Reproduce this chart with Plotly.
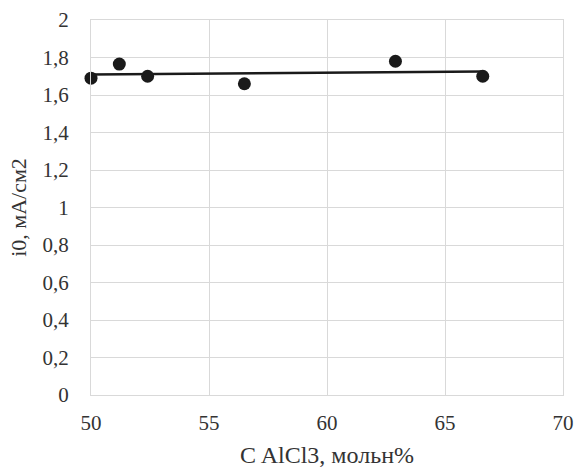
import numpy as np
import plotly.graph_objects as go

# Data
c_alcl3 = [50.0, 51.2, 52.4, 56.5, 62.9, 66.6]
i0 = [1.69, 1.765, 1.70, 1.66, 1.78, 1.70]
x_ticks = [50, 55, 60, 65, 70]
y_ticks = [0, 0.2, 0.4, 0.6, 0.8, 1.0, 1.2, 1.4, 1.6, 1.8, 2.0]

# linear trendline (least squares, like Excel)
slope, intercept = np.polyfit(c_alcl3, i0, 1)
tx = [min(c_alcl3), max(c_alcl3)]
ty = [slope * v + intercept for v in tx]

font_family = "Liberation Serif, Times New Roman, serif"
grid = "#d9d9d9"

fig = go.Figure()
fig.add_trace(go.Scatter(x=tx, y=ty, mode="lines",
                         line=dict(color="#1a1a1a", width=2.5),
                         showlegend=False, hoverinfo="skip"))
fig.add_trace(go.Scatter(x=c_alcl3, y=i0, mode="markers",
                         marker=dict(color="#1a1a1a", size=13),
                         showlegend=False, cliponaxis=False))

fig.update_layout(
    width=577, height=468,
    margin=dict(l=91, r=14, t=20, b=73),
    paper_bgcolor="white", plot_bgcolor="white",
    separators=", ",
    font=dict(family=font_family, size=21, color="#333333"),
    xaxis=dict(range=[50, 70], tickvals=x_ticks, showgrid=True,
               gridcolor=grid, gridwidth=1, zeroline=False,
               showline=True, linecolor=grid, linewidth=1, mirror=True,
               ticks="outside", ticklen=9,
               tickcolor="rgba(0,0,0,0)", automargin=False,
               ticklabeloverflow="allow",
               title=dict(text="C AlCl3, мольн%", standoff=13,
                          font=dict(size=24, family=font_family)),
               tickfont=dict(size=21)),
    yaxis=dict(range=[0, 2], tickvals=y_ticks, showgrid=True,
               gridcolor=grid, gridwidth=1, zeroline=False,
               showline=True, linecolor=grid, linewidth=1, mirror=True,
               ticks="outside", ticklen=17,
               tickcolor="rgba(0,0,0,0)", automargin=False,
               ticklabeloverflow="allow",
               title=dict(text="i0, мА/см2", standoff=9,
                          font=dict(size=22, family=font_family)),
               tickfont=dict(size=21)),
)
fig.write_html("out.html",
               config={"displayModeBar": False},
               post_script="document.body.style.margin='0';document.body.style.overflow='hidden';")
